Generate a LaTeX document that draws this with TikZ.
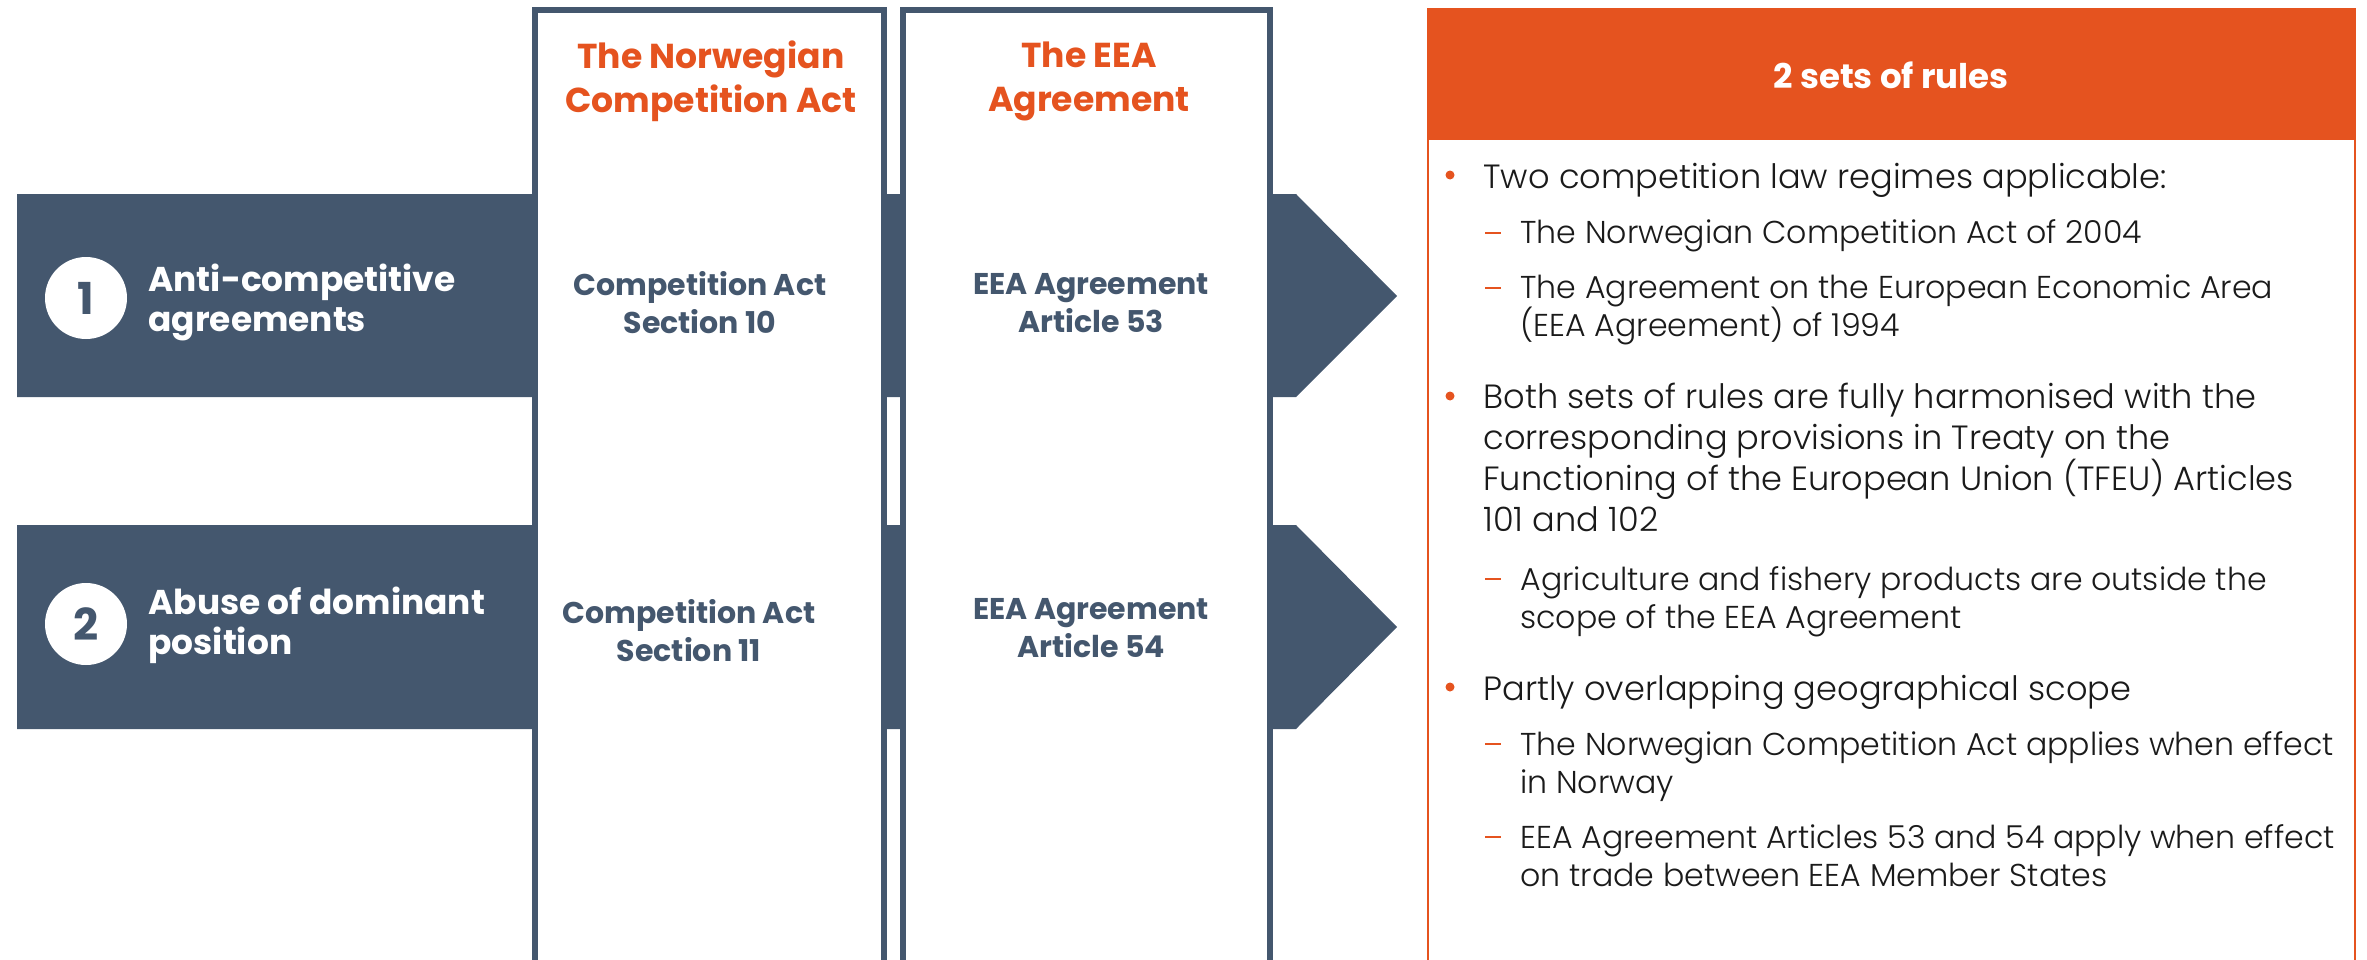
\documentclass[tikz,border=0pt]{standalone}
\usepackage{fontspec}
\setmainfont{Poppins}
\newfontfamily\lightfont{Poppins Light}
\definecolor{slate}{HTML}{44576E}
\definecolor{brand}{HTML}{E5531F}
\definecolor{ink}{HTML}{1A1A1A}
\newcommand{\setfs}[2]{\fontsize{#1}{#2}\selectfont}
% stacked lines whose baseline is the baseline of the first line
\newcommand{\vlines}[1]{\vtop{\let\\\cr\halign{##\hfil\cr#1\crcr}}}
\begin{document}
\begin{tikzpicture}[x=0.5pt,y=-0.5pt,
  band/.style={fill=slate,draw=none},
  colframe/.style={fill=white,draw=slate,line width=3pt},
  colhead/.style={inner sep=0pt,align=center,text=brand,font=\bfseries\setfs{17.3}{22}},
  rowlabel/.style={inner sep=0pt,anchor=base west,text=white,font=\bfseries\setfs{17.2}{20}},
  numdisc/.style={circle,fill=white,inner sep=0pt,minimum size=41pt,text=slate,font=\bfseries\setfs{22}{22}},
  cell/.style={inner sep=0pt,align=center,text=slate,font=\bfseries\setfs{15}{19}},
  paneltitle/.style={inner sep=0pt,text=white,font=\bfseries\setfs{17}{20}},
  lvlone/.style={inner sep=0pt,anchor=base west,text=ink,font=\lightfont\setfs{16.8}{20.5}},
  lvltwo/.style={inner sep=0pt,anchor=base west,text=ink,font=\lightfont\setfs{15.8}{19}},
  dot/.style={circle,fill=brand,inner sep=0pt,minimum size=4.5pt},
  dashmark/.style={draw=brand,line width=1pt}
]
\useasboundingbox (0,0) rectangle (2367,959);

% row bands with arrow heads
\fill[band] (17,194) -- (1296,194) -- (1397,296) -- (1296,397) -- (17,397) -- cycle;
\fill[band] (17,525) -- (1296,525) -- (1397,627) -- (1296,729) -- (17,729) -- cycle;

% the two columns, open at the bottom
\draw[colframe] (534.5,975) -- (534.5,10) -- (884,10) -- (884,975);
\draw[colframe] (903,975) -- (903,10) -- (1270,10) -- (1270,975);

% column headings
\node[colhead] (hdrA) at (711,81) {The Norwegian\\Competition Act};
\node[colhead] (hdrB) at (1089,81) {The EEA\\Agreement};

% row 1
\node[numdisc] (n1) at (86,298) {1};
\node[rowlabel] (r1) at (148,291) {\vlines{Anti-competitive\\agreements}};
\node[cell] (c1a) at (700,303) {Competition Act\\Section 10};
\node[cell] (c2a) at (1091,303) {EEA Agreement\\Article 53};

% row 2
\node[numdisc] (n2) at (86,624) {2};
\node[rowlabel] (r2) at (148,614) {\vlines{Abuse of dominant\\position}};
\node[cell] (c1b) at (689,631) {Competition Act\\Section 11};
\node[cell] (c2b) at (1091,628) {EEA Agreement\\Article 54};

% summary panel
\fill[brand] (1428,9) rectangle (2355,140);
\draw[brand,line width=1pt] (1428,975) -- (1428,9) -- (2355,9) -- (2355,975);
\node[paneltitle] (title) at (1891,75) {2 sets of rules};

\node[lvlone] (b1) at (1483,188) {Two competition law regimes applicable:};
\node[lvltwo] (d1) at (1520,243) {The Norwegian Competition Act of 2004};
\node[lvltwo] (d2) at (1520,298) {\vlines{The Agreement on the European Economic Area\\(EEA Agreement) of 1994}};
\node[lvlone] (b2) at (1483,408) {\vlines{Both sets of rules are fully harmonised with the\\corresponding provisions in Treaty on the\\Functioning of the European Union (TFEU) Articles\\101 and 102}};
\node[lvltwo] (d3) at (1520,590) {\vlines{Agriculture and fishery products are outside the\\scope of the EEA Agreement}};
\node[lvlone] (b3) at (1483,700) {Partly overlapping geographical scope};
\node[lvltwo] (d4) at (1520,755) {\vlines{The Norwegian Competition Act applies when effect\\in Norway}};
\node[lvltwo] (d5) at (1520,848) {\vlines{EEA Agreement Articles 53 and 54 apply when effect\\on trade between EEA Member States}};

% bullet marks
\node[dot] (m1) at (1450,175) {};
\node[dot] (m2) at (1450,396) {};
\node[dot] (m3) at (1450,687) {};
\foreach \yy in {233,288,579,744,837}
  \draw[dashmark] (1485,\yy) -- (1501,\yy);
\end{tikzpicture}
\end{document}
